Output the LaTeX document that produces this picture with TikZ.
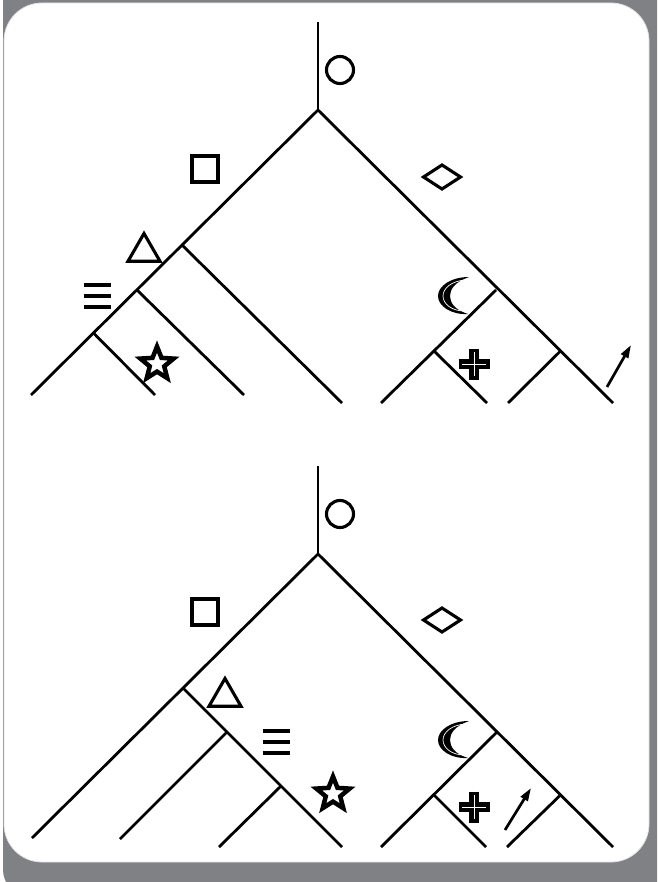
\documentclass[tikz,border=0pt]{standalone}
\usepackage{xcolor}
\definecolor{framegray}{RGB}{128,129,133}
\usetikzlibrary{arrows.meta,shapes,positioning}

\begin{document}
\begin{tikzpicture}[
  x=1pt,y=-1pt,
  branch/.style={line width=2.8pt},
  sym/.style={draw,line width=3.1pt,inner sep=0pt,outer sep=0pt},
  circsym/.style={sym,circle,minimum size=27pt},
  sqsym/.style={sym,rectangle,minimum size=26pt},
  dsym/.style={sym,diamond,minimum width=37pt,minimum height=24pt},
  trisym/.style={sym,regular polygon,regular polygon sides=3,minimum size=37pt},
  starsym/.style={sym,star,star points=5,star point ratio=2.3,minimum size=35pt,line width=4.5pt},
  arrowsym/.style={-{Triangle[length=13pt,width=8pt]},line width=2.7pt},
  barsym/.pic={\foreach \dy in {-11,0,11} \draw[line width=3.8pt] (-13.5,\dy) -- (13.5,\dy);},
  crosssym/.pic={
    \draw[line width=9.5pt] (-15.5,0) -- (15.5,0) (0,-15.5) -- (0,15.5);
    \draw[white,line width=0.6pt] (-12,0) -- (12,0) (0,-12) -- (0,12);},
  moonsym/.pic={
    \fill (16,-19) .. controls (-2,-19) and (-15,-10) .. (-15,0)
      .. controls (-15,10) and (-2,19) .. (15,18)
      .. controls (2,14) and (-3,7) .. (-3,0)
      .. controls (-3,-7) and (2,-14) .. (16,-19) -- cycle;
    \draw[white,line width=0.7pt] (12,-16) .. controls (-1,-15) and (-10,-8) .. (-10,0)
      .. controls (-10,8) and (-1,15) .. (11,15);}
]
  % Frame
  \clip (0,0) rectangle (657,882);
  \fill[framegray,rounded corners=25pt] (3,-30) rectangle (700,895);
  \filldraw[fill=white,draw=black!12,line width=0.8pt,rounded corners=38pt] (4,3) rectangle (649,862);

  % Top tree
  \coordinate (t0) at (318,22);
  \coordinate (ta) at (318,110);
  \coordinate (tl) at (31,395);
  \coordinate (tr) at (613,403);
  \coordinate (tj1) at (182,245);
  \coordinate (te1) at (342,403);
  \coordinate (tj2) at (137,290);
  \coordinate (te2) at (244,395);
  \coordinate (tj3) at (93.5,333);
  \coordinate (te3) at (155,395);
  \coordinate (tr1) at (496,290);
  \coordinate (tre1) at (381,403);
  \coordinate (tr3) at (434,351);
  \coordinate (tre3) at (487,403);
  \coordinate (tr2) at (560.5,351);
  \coordinate (tre2) at (508,403);

  \draw[branch] (t0) -- (ta);
  \draw[branch] (tl) -- (ta) -- (tr);
  \draw[branch] (tj1) -- (te1);
  \draw[branch] (tj2) -- (te2);
  \draw[branch] (tj3) -- (te3);
  \draw[branch] (tr1) -- (tre1);
  \draw[branch] (tr3) -- (tre3);
  \draw[branch] (tr2) -- (tre2);

  % Top symbols
  \node[circsym] (tcirc) at (340,70) {};
  \node[sqsym] (tsq) at (205,169) {};
  \node[dsym] (tdia) at (442,177) {};
  \node[trisym] (ttri) at (144,252) {};
  \node[starsym] (tstar) at (157,364) {};
  \pic (tbars) at (97,296) {barsym};
  \pic (tmoon) at (453,296) {moonsym};
  \pic (tcross) at (474,364) {crosssym};
  \coordinate (tat) at (607,387);
  \coordinate (tah) at (631,345);
  \draw[arrowsym] (tat) -- (tah);

  % Bottom tree
  \coordinate (b0) at (318,466);
  \coordinate (ba) at (318,554);
  \coordinate (bl) at (32,838);
  \coordinate (br) at (613,847);
  \coordinate (bj1) at (183,688);
  \coordinate (be1) at (342,847);
  \coordinate (bj2) at (227,732);
  \coordinate (be2) at (120,839);
  \coordinate (bj3) at (281,786);
  \coordinate (be3) at (219,847);
  \coordinate (br1) at (497,732);
  \coordinate (bre1) at (381,847);
  \coordinate (br3) at (434,795);
  \coordinate (bre3) at (486,847);
  \coordinate (br2) at (560.5,795);
  \coordinate (bre2) at (507,847);

  \draw[branch] (b0) -- (ba);
  \draw[branch] (bl) -- (ba) -- (br);
  \draw[branch] (bj1) -- (be1);
  \draw[branch] (bj2) -- (be2);
  \draw[branch] (bj3) -- (be3);
  \draw[branch] (br1) -- (bre1);
  \draw[branch] (br3) -- (bre3);
  \draw[branch] (br2) -- (bre2);

  % Bottom symbols
  \node[circsym] (bcirc) at (340,514) {};
  \node[sqsym] (bsq) at (205,612) {};
  \node[dsym] (bdia) at (442,620) {};
  \node[trisym] (btri) at (225,697) {};
  \node[starsym] (bstar) at (333,794) {};
  \pic (bbars) at (276,742) {barsym};
  \pic (bmoon) at (453,740) {moonsym};
  \pic (bcross) at (474,807) {crosssym};
  \coordinate (bat) at (505,830);
  \coordinate (bah) at (531,788);
  \draw[arrowsym] (bat) -- (bah);
\end{tikzpicture}
\end{document}
